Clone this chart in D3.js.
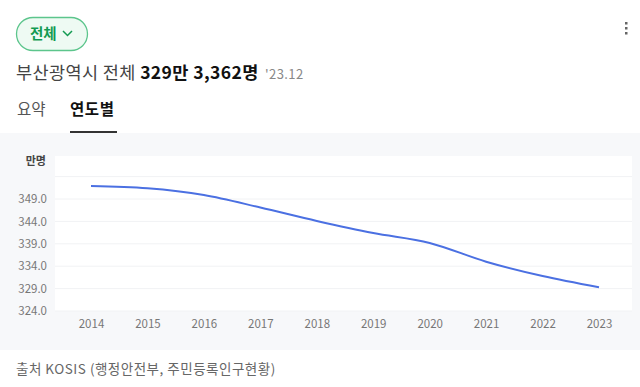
<!DOCTYPE html>
<html>
<head>
<meta charset="utf-8">
<script src="https://cdn.jsdelivr.net/npm/d3@7"></script>
<style>
  body { margin: 0; background: #fff; font-family: "Noto Sans CJK KR", "Noto Sans", sans-serif; }
</style>
</head>
<body>
<script>
const years = [2014, 2015, 2016, 2017, 2018, 2019, 2020, 2021, 2022, 2023];
// 만명
const population = [351.9, 351.4, 349.9, 347.1, 344.1, 341.4, 339.2, 335.0, 331.8, 329.3];
const yTicks = [324, 329, 334, 339, 344, 349, 354];
const yLabels = [324, 329, 334, 339, 344, 349];

const width = 640, height = 387;
const svg = d3.select("body").append("svg")
    .attr("width", width)
    .attr("height", height);

// header
const btn = svg.append("g");
btn.append("rect")
    .attr("x", 16.5).attr("y", 17.5)
    .attr("width", 71).attr("height", 33).attr("rx", 16.5)
    .attr("fill", "#eefaf3").attr("stroke", "#5cc58c").attr("stroke-width", 1.3);
btn.append("text")
    .attr("x", 30).attr("y", 39)
    .attr("font-size", 14.5).attr("font-weight", 700).attr("fill", "#139a52")
    .text("전체");
btn.append("path")
    .attr("d", "M63,31 L67.5,35.5 L72,31")
    .attr("fill", "none").attr("stroke", "#139a52").attr("stroke-width", 1.5);

// kebab
[22, 27, 32].forEach(y => svg.append("rect")
    .attr("x", 625).attr("y", y).attr("width", 2.5).attr("height", 2.5).attr("fill", "#666"));

const title = svg.append("text").attr("x", 16).attr("y", 79)
    .attr("font-size", 17.5).attr("letter-spacing", 0.4);
title.append("tspan").attr("fill", "#444").text("부산광역시 전체 ");
title.append("tspan").attr("fill", "#111").attr("font-weight", 700).text("329만 3,362명 ");
title.append("tspan").attr("fill", "#888").attr("font-size", 13).attr("dx", 2).text("'23.12");

svg.append("text").attr("x", 17).attr("y", 115)
    .attr("font-size", 15.5).attr("fill", "#555").text("요약");
svg.append("text").attr("x", 70).attr("y", 115)
    .attr("font-size", 15.5).attr("letter-spacing", 0.6).attr("font-weight", 700).attr("fill", "#111").text("연도별");
svg.append("rect").attr("x", 70).attr("y", 131).attr("width", 47).attr("height", 2).attr("fill", "#333");

// chart panel
svg.append("rect").attr("x", 0).attr("y", 133).attr("width", width).attr("height", 217).attr("fill", "#f7f8fa");

const plotL = 55, plotR = 632, plotT = 156, plotB = 311;
svg.append("rect").attr("x", plotL).attr("y", plotT)
    .attr("width", plotR - plotL).attr("height", plotB - plotT).attr("fill", "#fff");

const x = d3.scalePoint().domain(years).range([91, 599]);
const y = d3.scaleLinear().domain([324, 358.6]).range([plotB, plotT]);

svg.append("g").selectAll("line").data(yTicks).join("line")
    .attr("x1", plotL).attr("x2", plotR)
    .attr("y1", d => y(d)).attr("y2", d => y(d))
    .attr("stroke", "#f1f2f4").attr("stroke-width", 1);

const yAxis = svg.append("g")
    .attr("transform", `translate(${plotL - 8},0)`)
    .call(d3.axisLeft(y).tickValues(yLabels).tickFormat(d3.format(".1f")).tickSize(0).tickPadding(0));
yAxis.select(".domain").remove();
yAxis.selectAll("text").attr("font-size", 11.5).attr("fill", "#777")
    .attr("font-family", "'Noto Sans CJK KR', sans-serif");

const xAxis = svg.append("g")
    .attr("transform", `translate(0,${plotB + 9})`)
    .call(d3.axisBottom(x).tickSize(0).tickPadding(0));
xAxis.select(".domain").remove();
xAxis.selectAll("text").attr("font-size", 11.5).attr("fill", "#777")
    .attr("font-family", "'Noto Sans CJK KR', sans-serif");

svg.append("text").attr("x", 46).attr("y", 165).attr("text-anchor", "end")
    .attr("font-size", 11).attr("font-weight", 700).attr("fill", "#444").text("만명");

const line = d3.line()
    .x((d, i) => x(years[i]))
    .y(d => y(d))
    .curve(d3.curveMonotoneX);

svg.append("path").datum(population)
    .attr("d", line)
    .attr("fill", "none").attr("stroke", "#4b70e2").attr("stroke-width", 2);

// footer
svg.append("text").attr("x", 16).attr("y", 374)
    .attr("font-size", 13.5).attr("letter-spacing", 0.5).attr("fill", "#666")
    .text("출처 KOSIS (행정안전부, 주민등록인구현황)");
</script>
</body>
</html>
